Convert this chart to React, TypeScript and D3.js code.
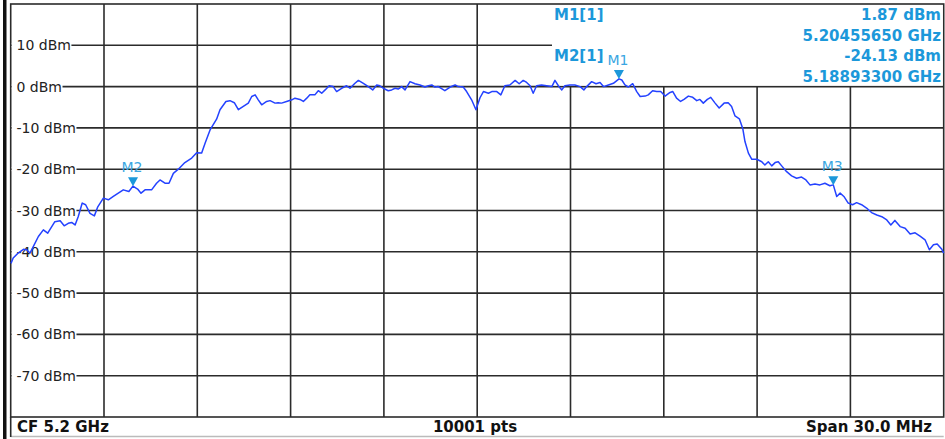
import React, {useRef, useEffect} from "react";
import {select, scaleLinear, line, curveLinear, range} from "d3";

// trace, offset from CF in MHz / level in dBm
const freqOffsets = [
    -14.99, -14.92, -14.76, -14.59, -14.49, -14.38, -14.27, -14.11, -13.95, -13.81,
    -13.68, -13.58, -13.41, -13.28, -13.15, -13.04, -12.93, -12.83, -12.70, -12.59,
    -12.45, -12.31, -12.20, -12.02, -11.86, -11.70, -11.54, -11.38, -11.20, -11.07,
    -10.92, -10.81, -10.68, -10.47, -10.31, -10.20, -10.04, -9.91, -9.77, -9.61,
    -9.40, -9.18, -9.02, -8.86, -8.75, -8.59, -8.38, -8.27, -8.08, -7.95,
    -7.81, -7.68, -7.52, -7.36, -7.25, -7.14, -7.04, -6.93, -6.77, -6.66,
    -6.50, -6.40, -6.29, -6.13, -5.96, -5.86, -5.70, -5.59, -5.48, -5.38,
    -5.22, -5.11, -5.00, -4.89, -4.76, -4.63, -4.52, -4.36, -4.20, -4.09,
    -3.93, -3.82, -3.66, -3.50, -3.36, -3.23, -3.13, -3.02, -2.86, -2.75,
    -2.64, -2.54, -2.43, -2.32, -2.16, -2.00, -1.84, -1.68, -1.57, -1.46,
    -1.36, -1.25, -1.04, -0.87, -0.71, -0.61, -0.45, -0.34, -0.18, -0.04,
    0.09, 0.20, 0.36, 0.47, 0.63, 0.76, 0.89, 1.05, 1.22, 1.35,
    1.48, 1.59, 1.70, 1.80, 1.91, 2.07, 2.23, 2.40, 2.50, 2.61,
    2.72, 2.82, 2.98, 3.14, 3.31, 3.43, 3.52, 3.68, 3.82, 3.95,
    4.06, 4.22, 4.38, 4.56, 4.65, 4.75, 4.86, 5.00, 5.13, 5.24,
    5.40, 5.50, 5.64, 5.77, 5.90, 6.04, 6.18, 6.29, 6.41, 6.54,
    6.65, 6.79, 6.93, 7.06, 7.16, 7.27, 7.40, 7.51, 7.65, 7.78,
    7.94, 8.07, 8.18, 8.29, 8.43, 8.54, 8.61, 8.72, 8.83, 8.99,
    9.15, 9.25, 9.36, 9.47, 9.58, 9.68, 9.79, 9.95, 10.11, 10.27,
    10.43, 10.57, 10.70, 10.86, 11.02, 11.18, 11.34, 11.45, 11.56, 11.67,
    11.79, 11.93, 12.07, 12.20, 12.36, 12.52, 12.68, 12.85, 13.01, 13.17,
    13.30, 13.43, 13.60, 13.76, 13.92, 14.08, 14.24, 14.40, 14.54, 14.67,
    14.79, 14.94, 15.00
];
const levels = [
    -42.8, -41.5, -40.3, -39.4, -39.5, -40.3, -38.7, -36.3, -34.7, -35.5,
    -33.9, -32.7, -32.5, -33.7, -33.1, -32.9, -33.5, -31.5, -28.2, -28.6,
    -30.7, -31.3, -29.1, -27.0, -27.4, -26.6, -25.8, -25.0, -25.4, -24.1,
    -24.8, -25.8, -25.0, -25.0, -23.4, -22.6, -23.4, -23.4, -21.0, -20.0,
    -18.4, -17.3, -16.0, -16.1, -13.7, -10.5, -7.9, -5.6, -3.6, -3.4,
    -3.9, -5.6, -4.8, -4.0, -2.4, -2.0, -3.2, -4.4, -3.6, -3.4,
    -4.0, -3.9, -4.0, -3.6, -3.2, -2.8, -3.1, -3.6, -2.8, -2.0,
    -2.0, -1.0, -1.6, -0.8, 0.2, 0.0, -1.2, -0.4, 0.2, -0.4,
    0.8, 1.5, 0.8, 0.0, -0.8, 0.4, 0.2, -0.4, -1.0, -0.8,
    -0.4, -0.6, 0.0, -0.8, 1.2, 0.7, 0.4, -0.1, 0.2, 0.4,
    -0.1, 0.0, -1.0, -0.1, 0.4, 0.0, -0.1, -1.2, -3.2, -5.6,
    -2.7, -1.2, -1.6, -1.2, -1.2, -2.0, 0.2, 0.4, 1.5, 0.7,
    1.5, 1.0, 0.2, -1.6, 0.2, 0.4, 0.2, 0.0, 1.5, 0.2,
    -0.8, 0.2, 0.4, 0.4, 0.0, -0.8, 0.0, 1.2, 0.7, 1.0,
    0.0, 0.4, 0.8, 1.87, 1.6, 0.4, -0.1, 0.7, -1.2, -2.4,
    -2.3, -2.0, -1.0, -1.2, -1.2, -2.3, -1.5, -1.2, -2.8, -3.6,
    -3.1, -2.3, -2.6, -3.4, -3.1, -4.0, -3.1, -2.6, -4.0, -5.2,
    -4.0, -3.9, -4.8, -7.1, -7.8, -10.2, -13.3, -16.1, -17.6, -17.6,
    -18.2, -19.0, -18.2, -19.2, -18.4, -18.2, -19.2, -20.6, -21.6, -22.2,
    -21.9, -22.6, -23.8, -23.6, -23.8, -23.4, -24.0, -23.8, -26.6, -25.8,
    -26.6, -28.2, -28.6, -28.1, -28.6, -29.4, -30.5, -31.1, -31.5, -32.3,
    -33.5, -32.4, -33.9, -34.3, -35.7, -35.4, -36.2, -37.1, -39.5, -38.3,
    -38.1, -39.4, -40.3
];

const levelTicks = [10, 0, -10, -20, -30, -40, -50, -60, -70];

const markerNames = ["M1", "M2", "M3"];
const markerFreqs = [4.5565, -11.067, 11.45];
const markerLevels = [1.87, -24.13, -23.9];

const infoLeft = ["M1[1]", "", "M2[1]", ""];
const infoRight = ["1.87 dBm", "5.20455650 GHz", "-24.13 dBm", "5.18893300 GHz"];

const footerLeft = "CF 5.2 GHz";
const footerMid = "10001 pts";
const footerRight = "Span 30.0 MHz";

const FONT = "'DejaVu Sans', Verdana, sans-serif";
const GRID = "#2b2b2b";
const MARKER = "#1c98da";

const renderPlot = (svg) => {
    const left = 10.7, right = 943.7, top = 4, bottom = 417;
    const infoX = 552;

    const x = scaleLinear().domain([-15, 15]).range([left, right]);
    const y = scaleLinear().domain([-80, 20]).range([bottom, top]);

    svg.selectAll("*").remove();
    svg.append("rect").attr("width", 945).attr("height", 439).attr("fill", "white");

    // outer frame on the left
    svg.append("rect").attr("x", 3).attr("y", 0).attr("width", 3.5).attr("height", 439).attr("fill", "#111");

    const grid = svg.append("g").attr("stroke", GRID).attr("stroke-width", 1.6);

    // vertical grid
    range(-12, 13, 3).forEach(f => {
        grid.append("line")
            .attr("x1", x(f)).attr("x2", x(f))
            .attr("y1", x(f) > infoX ? y(0) : top)
            .attr("y2", bottom);
    });

    // horizontal grid (10 dBm line stops at the marker info box)
    levelTicks.forEach(v => {
        grid.append("line")
            .attr("x1", left).attr("x2", v > 0 ? infoX : right)
            .attr("y1", y(v)).attr("y2", y(v));
    });

    // frame
    grid.append("rect")
        .attr("x", left).attr("y", top)
        .attr("width", right - left).attr("height", bottom - top)
        .attr("fill", "none");

    // footer
    svg.append("line")
        .attr("x1", left).attr("x2", right)
        .attr("y1", 436.5).attr("y2", 436.5)
        .attr("stroke", "#bbb").attr("stroke-width", 1.5);
    svg.append("line")
        .attr("x1", left).attr("x2", left)
        .attr("y1", bottom).attr("y2", 437)
        .attr("stroke", GRID).attr("stroke-width", 1.6);

    const footer = svg.append("g")
        .attr("font-family", FONT).attr("font-weight", "bold")
        .attr("font-size", 15).attr("fill", "#111");
    footer.append("text").attr("x", 17).attr("y", 432).text(footerLeft);
    footer.append("text").attr("x", 475).attr("y", 432).attr("text-anchor", "middle").text(footerMid);
    footer.append("text").attr("x", 932).attr("y", 432).attr("text-anchor", "end").text(footerRight);

    // level labels with white backing over the grid line
    const labels = svg.append("g").attr("font-family", FONT).attr("font-size", 14).attr("fill", "#222");
    levelTicks.forEach(v => {
        const bg = labels.append("rect").attr("fill", "white");
        const t = labels.append("text")
            .attr("x", 16.5).attr("y", y(v) + 5)
            .text(`${v} dBm`);
        const bb = t.node().getBBox();
        bg.attr("x", left + 1).attr("y", y(v) - 2)
            .attr("width", bb.x + bb.width - left - 0.5).attr("height", 4);
    });

    // marker info box
    svg.append("rect")
        .attr("x", infoX).attr("y", top + 1)
        .attr("width", right - infoX - 1).attr("height", y(0) - top - 2)
        .attr("fill", "white");
    const info = svg.append("g")
        .attr("font-family", FONT).attr("font-weight", "bold")
        .attr("font-size", 15).attr("fill", MARKER);
    infoLeft.forEach((s, i) => {
        info.append("text").attr("x", 554).attr("y", 20 + i * 20.5).text(s);
    });
    infoRight.forEach((s, i) => {
        info.append("text").attr("x", 941).attr("y", 20 + i * 20.5)
            .attr("text-anchor", "end").text(s);
    });

    // trace
    const pts = freqOffsets.map((f, i) => [f, levels[i]]);
    svg.append("path")
        .attr("d", line().x(d => x(d[0])).y(d => y(d[1])).curve(curveLinear)(pts))
        .attr("fill", "none")
        .attr("stroke", "#2442ff")
        .attr("stroke-width", 1.5)
        .attr("stroke-linejoin", "round");

    // markers
    markerNames.forEach((name, i) => {
        const mx = x(markerFreqs[i]);
        const my = y(markerLevels[i]);
        svg.append("path")
            .attr("d", `M${mx - 5},${my - 9} L${mx + 5},${my - 9} L${mx},${my} Z`)
            .attr("fill", MARKER);
        svg.append("text")
            .attr("x", mx - 1).attr("y", my - 14)
            .attr("text-anchor", "middle")
            .attr("font-family", FONT).attr("font-size", 14)
            .attr("fill", "#3aa6e2")
            .text(name);
    });
};

const App = () => {
    const svgRef = useRef(null);

    useEffect(() => {
        select(svgRef.current).call(renderPlot);
    });

    return (
        <svg ref={svgRef} width={945} height={439}
             style={{position: "absolute", left: 0, top: 0}}/>
    );
};

export default App;
